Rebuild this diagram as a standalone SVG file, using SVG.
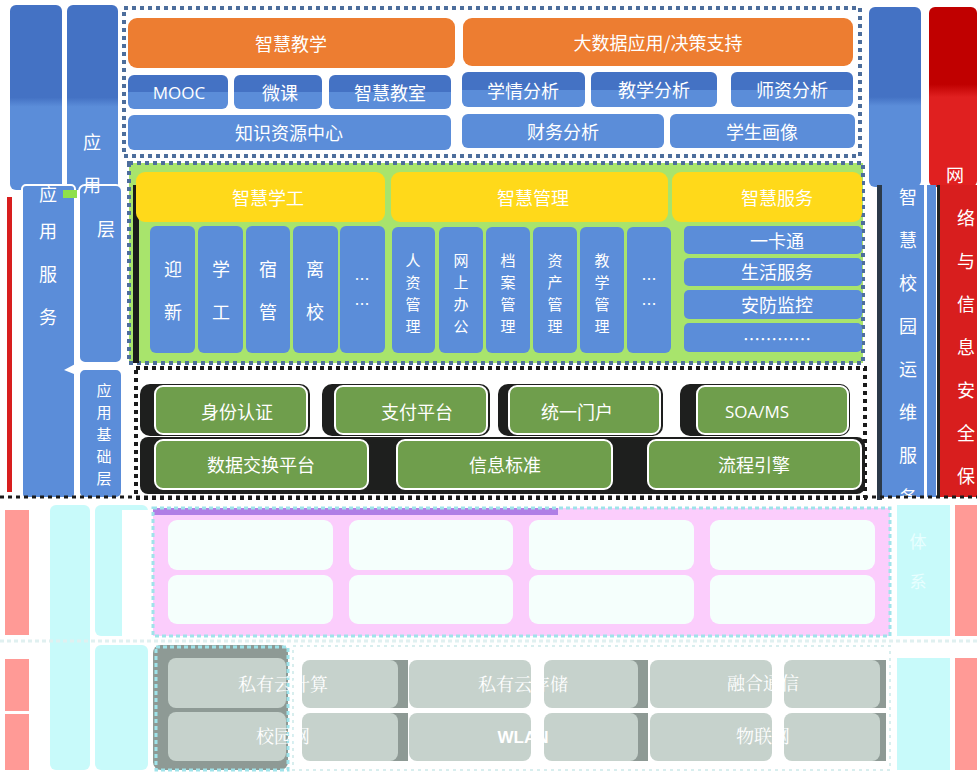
<svg xmlns="http://www.w3.org/2000/svg" width="977" height="773" viewBox="0 0 977 773">
<defs>
<linearGradient id="bg2" x1="0" y1="0" x2="0" y2="1">
<stop offset="0" stop-color="#4472c4"/><stop offset="0.5" stop-color="#4472c4"/><stop offset="0.5" stop-color="#5b8dd9"/><stop offset="1" stop-color="#5b8dd9"/>
</linearGradient>
<linearGradient id="colB" x1="0" y1="0" x2="0" y2="1">
<stop offset="0" stop-color="#4472c4"/><stop offset="0.5" stop-color="#4472c4"/><stop offset="0.55" stop-color="#5b8dd9"/><stop offset="1" stop-color="#5b8dd9"/>
</linearGradient>
<linearGradient id="colR" x1="0" y1="0" x2="0" y2="1">
<stop offset="0" stop-color="#c00000"/><stop offset="0.43" stop-color="#c00000"/><stop offset="0.5" stop-color="#e02020"/><stop offset="1" stop-color="#e02020"/>
</linearGradient>
</defs>
<style>
text{font-family:"Noto Sans CJK SC","Liberation Sans",sans-serif;fill:#ffffff;text-anchor:middle;dominant-baseline:central}
.t18{font-size:18px}
.t17{font-size:17px}
.t15{font-size:15px}
.blue{fill:#5b8dd9}
.bg{fill:url(#bg2)}
.or{fill:#ed7d31}
.ye{fill:#ffd91a}
.gr{fill:#6f9e4c;stroke:#ffffff;stroke-width:2}
.dk{fill:#1e1f1e}
.pk{fill:#f5fffc}
.gy{fill:#c6d2cc}
.dash{fill:none;stroke:#4d6e9c;stroke-width:4;stroke-dasharray:4 4}
.dashk{fill:none;stroke:#1a1a1a;stroke-width:4;stroke-dasharray:4 4}
.dashc{fill:none;stroke:#9fe3ea;stroke-width:3;stroke-dasharray:4 3}
.faint{fill:#e8ffff;font-size:17px}
.serif{font-family:"Liberation Serif","Noto Serif CJK SC","Noto Sans CJK SC",serif}
</style>
<rect width="977" height="773" fill="#ffffff"/>

<g id="left-columns">
<rect x="10" y="5" width="52" height="185" rx="6" fill="url(#colB)"/>
<rect x="67" y="5" width="51" height="185" rx="6" fill="url(#colB)"/>
<rect x="7" y="197" width="5" height="295" fill="#d81e1e"/>
<rect x="22" y="185" width="53" height="313" rx="4" class="blue" stroke="#ffffff" stroke-width="2"/>
<rect x="79" y="185" width="43" height="178" rx="6" class="blue" stroke="#ffffff" stroke-width="2"/>
<rect x="63" y="190" width="14" height="8" fill="#8ee04a"/>
<rect x="79" y="369" width="43" height="129" rx="6" class="blue" stroke="#ffffff" stroke-width="2"/>
<path d="M64 370 L79 362 L79 376 Z" fill="#ffffff"/>
<text class="t18" x="92" y="141">应</text>
<text class="t18" x="48" y="193">应</text>
<text class="t18" x="48" y="230">用</text>
<text class="t18" x="48" y="273">服</text>
<text class="t18" x="48" y="316">务</text>
<text class="t18" x="92" y="184">用</text>
<text class="t18" x="106" y="228">层</text>
<text class="t15" x="104" y="389">应</text>
<text class="t15" x="104" y="411">用</text>
<text class="t15" x="104" y="433">基</text>
<text class="t15" x="104" y="455">础</text>
<text class="t15" x="104" y="477">层</text>
</g>

<g id="right-columns">
<rect x="869" y="7" width="52" height="180" rx="6" fill="url(#colB)"/>
<rect x="929" y="7" width="48" height="180" rx="6" fill="url(#colR)"/>
<rect x="877" y="185" width="5" height="315" fill="#2b3a4a"/>
<rect x="882" y="185" width="54" height="312" class="blue"/>
<rect x="924" y="185" width="3" height="312" fill="#ffffff"/>
<rect x="937" y="185" width="3" height="312" fill="#222222"/>
<rect x="940" y="185" width="37" height="312" fill="#d81e1e"/>
<text class="t18" x="908" y="196">智</text>
<text class="t18" x="908" y="239">慧</text>
<text class="t18" x="908" y="282">校</text>
<text class="t18" x="908" y="325">园</text>
<text class="t18" x="908" y="368">运</text>
<text class="t18" x="908" y="411">维</text>
<text class="t18" x="908" y="454">服</text>
<text class="t18" x="908" y="496">务</text>
<text class="t18" x="955" y="174">网</text>
<text class="t18" x="966" y="217">络</text>
<text class="t18" x="966" y="260">与</text>
<text class="t18" x="966" y="303">信</text>
<text class="t18" x="966" y="346">息</text>
<text class="t18" x="966" y="389">安</text>
<text class="t18" x="966" y="432">全</text>
<text class="t18" x="966" y="475">保</text>
</g>

<g id="top-section">
<rect x="124" y="8" width="736" height="148" class="dash"/>
<rect x="128" y="18" width="327" height="50" rx="9" class="or"/>
<text class="t18" x="291" y="43">智慧教学</text>
<rect x="463" y="18" width="390" height="48" rx="9" class="or"/>
<text class="t18" x="658" y="42">大数据应用/决策支持</text>
<rect x="128" y="75" width="100" height="34" rx="6" class="bg"/>
<text class="t17" x="179" y="92" style="font-family:'Open Sans','Liberation Sans',sans-serif">MOOC</text>
<rect x="234" y="75" width="88" height="34" rx="6" class="bg"/>
<text class="t18" x="280" y="92">微课</text>
<rect x="329" y="75" width="122" height="34" rx="6" class="bg"/>
<text class="t18" x="390" y="92">智慧教室</text>
<rect x="128" y="115" width="323" height="35" rx="6" class="blue"/>
<text class="t18" x="289" y="132">知识资源中心</text>
<rect x="462" y="72" width="123" height="35" rx="6" class="bg"/>
<text class="t18" x="523" y="90">学情分析</text>
<rect x="591" y="72" width="126" height="35" rx="6" class="bg"/>
<text class="t18" x="654" y="89">教学分析</text>
<rect x="731" y="72" width="122" height="35" rx="6" class="bg"/>
<text class="t18" x="792" y="89">师资分析</text>
<rect x="462" y="114" width="202" height="34" rx="6" class="blue"/>
<text class="t18" x="563" y="131">财务分析</text>
<rect x="670" y="114" width="185" height="34" rx="6" class="blue"/>
<text class="t18" x="762" y="131">学生画像</text>
</g>

<g id="app-section">
<rect x="129" y="163" width="734" height="200" fill="#a8e46c"/>
<rect x="129" y="163" width="734" height="200" class="dash" stroke-width="3"/>
<rect x="133" y="185" width="6" height="178" fill="#1a1a1a"/>
<rect x="136" y="172" width="249" height="50" rx="9" class="ye"/>
<text class="t18" x="268" y="197">智慧学工</text>
<rect x="391" y="172" width="277" height="50" rx="9" class="ye"/>
<text class="t18" x="533" y="197">智慧管理</text>
<rect x="672" y="172" width="190" height="50" rx="9" class="ye"/>
<text class="t18" x="777" y="197">智慧服务</text>

<rect x="150" y="226" width="45" height="127" rx="6" class="blue"/>
<text class="t18" x="173" y="268">迎</text><text class="t18" x="173" y="311">新</text>
<rect x="198" y="226" width="45" height="127" rx="6" class="blue"/>
<text class="t18" x="221" y="268">学</text><text class="t18" x="221" y="311">工</text>
<rect x="246" y="226" width="44" height="127" rx="6" class="blue"/>
<text class="t18" x="268" y="268">宿</text><text class="t18" x="268" y="311">管</text>
<rect x="293" y="226" width="45" height="127" rx="6" class="blue"/>
<text class="t18" x="315" y="268">离</text><text class="t18" x="315" y="311">校</text>
<rect x="340" y="226" width="45" height="127" rx="6" class="blue"/>
<text class="t15" x="362" y="278">…</text><text class="t15" x="362" y="303">…</text>

<rect x="392" y="227" width="43" height="126" rx="6" class="blue"/>
<text class="t15" x="413" y="259">人</text><text class="t15" x="413" y="281">资</text><text class="t15" x="413" y="303">管</text><text class="t15" x="413" y="325">理</text>
<rect x="439" y="227" width="44" height="126" rx="6" class="blue"/>
<text class="t15" x="461" y="259">网</text><text class="t15" x="461" y="281">上</text><text class="t15" x="461" y="303">办</text><text class="t15" x="461" y="325">公</text>
<rect x="486" y="227" width="44" height="126" rx="6" class="blue"/>
<text class="t15" x="508" y="259">档</text><text class="t15" x="508" y="281">案</text><text class="t15" x="508" y="303">管</text><text class="t15" x="508" y="325">理</text>
<rect x="533" y="227" width="44" height="126" rx="6" class="blue"/>
<text class="t15" x="555" y="259">资</text><text class="t15" x="555" y="281">产</text><text class="t15" x="555" y="303">管</text><text class="t15" x="555" y="325">理</text>
<rect x="580" y="227" width="44" height="126" rx="6" class="blue"/>
<text class="t15" x="602" y="259">教</text><text class="t15" x="602" y="281">学</text><text class="t15" x="602" y="303">管</text><text class="t15" x="602" y="325">理</text>
<rect x="627" y="227" width="44" height="126" rx="6" class="blue"/>
<text class="t15" x="649" y="278">…</text><text class="t15" x="649" y="303">…</text>

<rect x="684" y="226" width="178" height="28" rx="5" class="blue"/>
<text class="t18" x="777" y="240">一卡通</text>
<rect x="684" y="258" width="178" height="28" rx="5" class="blue"/>
<text class="t18" x="777" y="271">生活服务</text>
<rect x="684" y="290" width="178" height="29" rx="5" class="blue"/>
<text class="t18" x="777" y="304">安防监控</text>
<rect x="684" y="323" width="178" height="29" rx="5" class="blue"/>
<text class="t17" x="777" y="338">…………</text>
</g>

<g id="foundation-section">
<rect x="136" y="368" width="729" height="130" class="dashk" stroke-width="3"/>
<rect x="140" y="384" width="170" height="52" rx="10" class="dk"/>
<rect x="322" y="384" width="168" height="52" rx="10" class="dk"/>
<rect x="498" y="384" width="165" height="52" rx="10" class="dk"/>
<rect x="680" y="384" width="170" height="52" rx="10" class="dk"/>
<rect x="140" y="437" width="725" height="57" rx="8" class="dk"/>
<rect x="155" y="386" width="152" height="48" rx="8" class="gr"/>
<text class="t18" x="237" y="411">身份认证</text>
<rect x="335" y="386" width="152" height="48" rx="8" class="gr"/>
<text class="t18" x="417" y="411">支付平台</text>
<rect x="509" y="386" width="151" height="48" rx="8" class="gr"/>
<text class="t18" x="577" y="411">统一门户</text>
<rect x="697" y="386" width="151" height="48" rx="8" class="gr"/>
<text class="t17" x="757" y="411" style="font-family:'Open Sans','Liberation Sans',sans-serif">SOA/MS</text>
<rect x="155" y="440" width="213" height="49" rx="8" class="gr"/>
<text class="t18" x="261" y="464">数据交换平台</text>
<rect x="397" y="440" width="215" height="49" rx="8" class="gr"/>
<text class="t18" x="505" y="464">信息标准</text>
<rect x="648" y="440" width="213" height="49" rx="8" class="gr"/>
<text class="t18" x="754" y="464">流程引擎</text>
</g>

<g id="lower-columns">
<rect x="5" y="510" width="24" height="125" fill="#ff9a96"/>
<rect x="5" y="659" width="24" height="52" fill="#ff9a96"/>
<rect x="5" y="714" width="24" height="56" fill="#ff9a96"/>
<rect x="50" y="505" width="40" height="265" rx="6" fill="#c8fafa"/>
<rect x="95" y="505" width="53" height="131" rx="6" fill="#c8fafa"/>
<rect x="122" y="510" width="26" height="126" fill="#ffffff"/>
<rect x="95" y="645" width="53" height="125" rx="6" fill="#c8fafa"/>
<rect x="897" y="505" width="53" height="131" fill="#c8fafa"/>
<rect x="897" y="658" width="53" height="112" fill="#c8fafa"/>
<rect x="955" y="505" width="22" height="131" fill="#ff9a96"/>
<rect x="955" y="658" width="22" height="112" fill="#ff9a96"/>
<text class="faint" x="918" y="540">体</text>
<text class="faint" x="918" y="580">系</text>
</g>

<g id="platform-section">
<rect x="153" y="508" width="737" height="128" fill="#fbcdfc"/>
<rect x="153" y="508" width="405" height="7" fill="#b07ee6"/>
<rect x="153" y="508" width="737" height="128" class="dashc"/>
<rect x="168" y="520" width="165" height="50" rx="9" class="pk"/>
<rect x="349" y="520" width="164" height="50" rx="9" class="pk"/>
<rect x="529" y="520" width="165" height="50" rx="9" class="pk"/>
<rect x="710" y="520" width="165" height="50" rx="9" class="pk"/>
<rect x="168" y="575" width="165" height="49" rx="9" class="pk"/>
<rect x="349" y="575" width="164" height="49" rx="9" class="pk"/>
<rect x="529" y="575" width="165" height="49" rx="9" class="pk"/>
<rect x="710" y="575" width="165" height="49" rx="9" class="pk"/>
</g>

<g id="infra-section">
<rect x="153" y="645" width="737" height="125" fill="#ffffff"/>
<rect x="153" y="645" width="135" height="125" rx="8" fill="#8e9a95"/>
<rect x="168" y="658" width="118" height="50" rx="8" class="gy"/>
<rect x="168" y="712" width="118" height="49" rx="8" class="gy"/>
<rect x="390" y="660" width="18" height="48" fill="#8e9a95"/>
<rect x="390" y="713" width="18" height="48" fill="#8e9a95"/>
<rect x="630" y="660" width="18" height="48" fill="#8e9a95"/>
<rect x="630" y="713" width="18" height="48" fill="#8e9a95"/>
<rect x="868" y="660" width="18" height="48" fill="#8e9a95"/>
<rect x="868" y="713" width="18" height="48" fill="#8e9a95"/>
<rect x="302" y="660" width="96" height="48" rx="8" class="gy"/>
<rect x="409" y="660" width="122" height="48" rx="8" class="gy"/>
<rect x="544" y="660" width="94" height="48" rx="8" class="gy"/>
<rect x="650" y="660" width="122" height="48" rx="8" class="gy"/>
<rect x="784" y="660" width="96" height="48" rx="8" class="gy"/>
<rect x="302" y="713" width="96" height="48" rx="8" class="gy"/>
<rect x="409" y="713" width="122" height="48" rx="8" class="gy"/>
<rect x="544" y="713" width="94" height="48" rx="8" class="gy"/>
<rect x="650" y="713" width="122" height="48" rx="8" class="gy"/>
<rect x="784" y="713" width="96" height="48" rx="8" class="gy"/>
<rect x="156" y="647" width="132" height="123" class="dashc" stroke="#dff6f6"/>
<rect x="293" y="646" width="597" height="124" fill="none" stroke="#d8eeee" stroke-width="2" stroke-dasharray="3 4"/>
<text class="t18 serif" x="283" y="685">私有云计算</text>
<text class="t18 serif" x="523" y="685">私有云存储</text>
<text class="t18 serif" x="763" y="684">融合通信</text>
<text class="t18 serif" x="283" y="737">校园网</text>
<text class="t17" x="523" y="737" style="font-family:'Liberation Sans',sans-serif;font-weight:bold">WLAN</text>
<text class="t18 serif" x="763" y="737">物联网</text>
</g>

<g id="connectors">
<line x1="0" y1="497" x2="977" y2="497" stroke="#1a1a1a" stroke-width="3" stroke-dasharray="4 4"/>
<line x1="0" y1="641" x2="977" y2="641" stroke="#e0f0f0" stroke-width="3" stroke-dasharray="4 3"/>
</g>
</svg>
